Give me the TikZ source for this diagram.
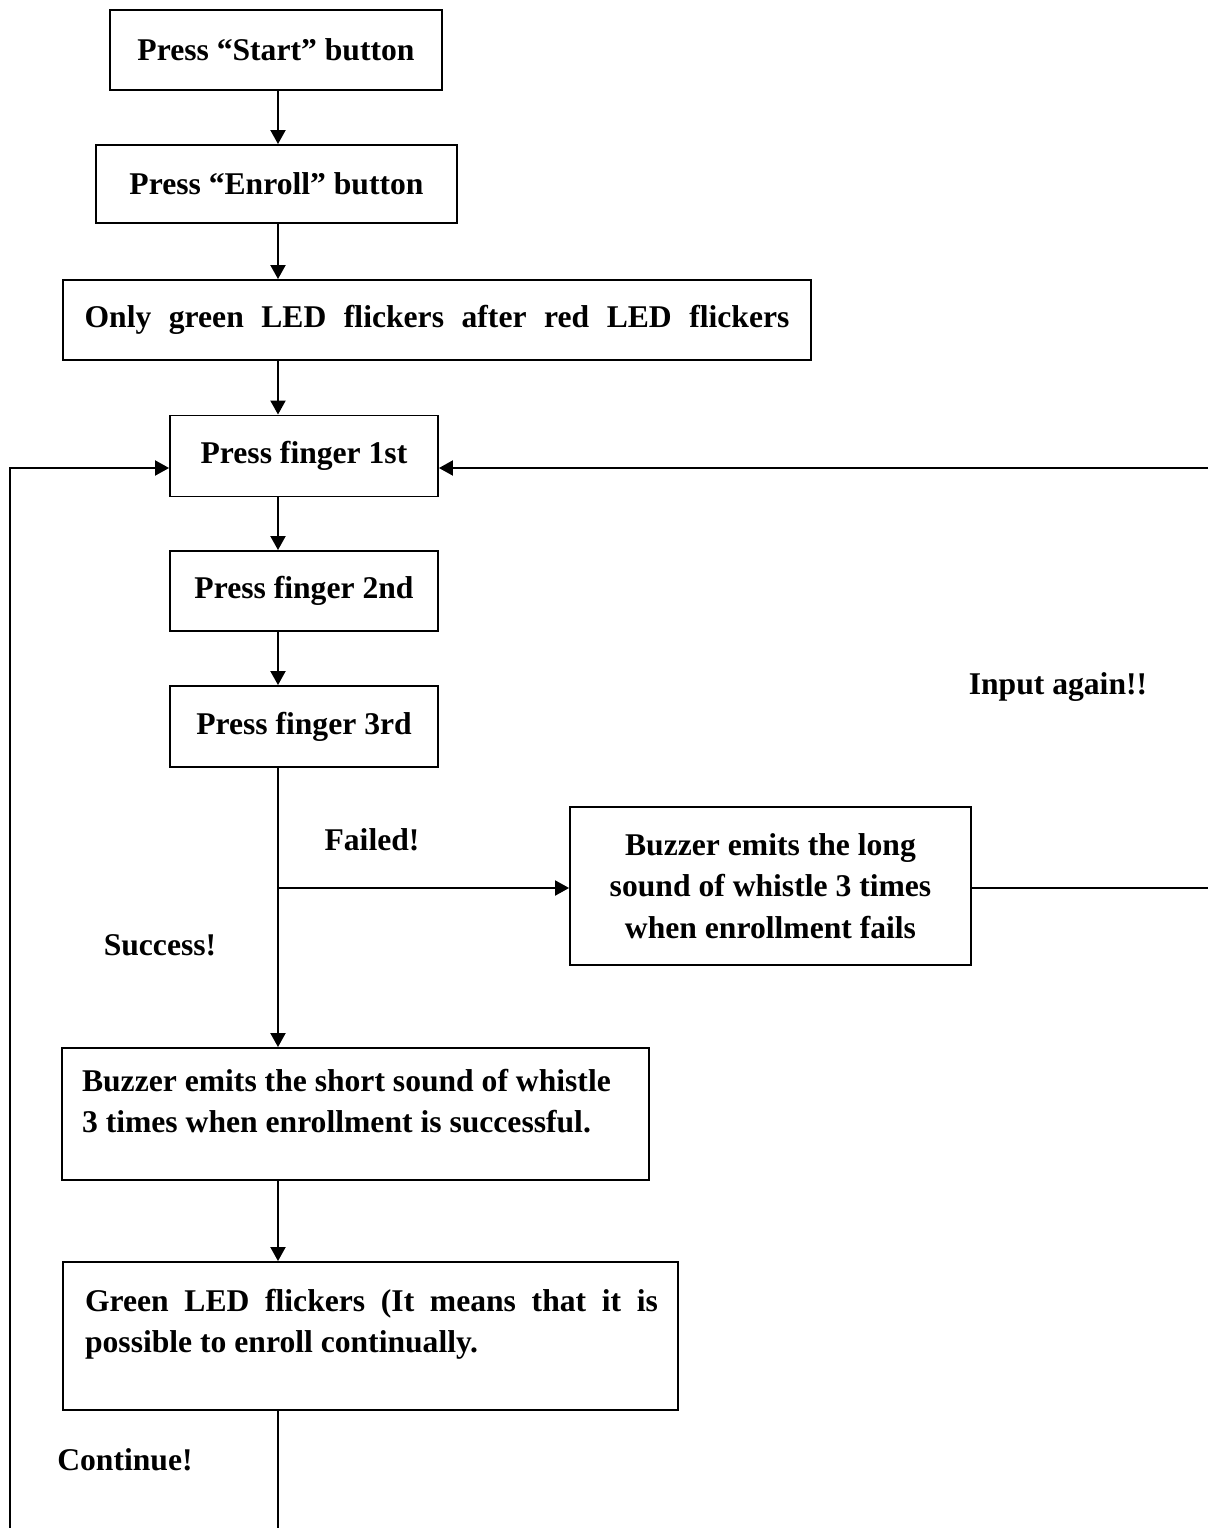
\documentclass[tikz,border=0pt]{standalone}
\usepackage{fontspec}
\setmainfont{Liberation Serif}
\usetikzlibrary{arrows.meta}

\tikzset{
    stepbox/.style={draw, line width=1.1pt, inner sep=0pt, align=center,
        font=\bfseries\fontsize{18}{23.5}\selectfont},
    caption/.style={inner sep=0pt, font=\bfseries\fontsize{18}{23.5}\selectfont},
    flow/.style={line width=1.1pt, -{Triangle[length=0.28cm, width=0.3cm]}},
    wire/.style={line width=1.1pt}
}

\begin{document}
\begin{tikzpicture}[x=0.02cm, y=-0.02cm]
    \useasboundingbox (0,0) rectangle (1208,1528);

    % Main column of boxes
    \node[stepbox, minimum width=6.64cm, minimum height=1.6cm] (start) at (276,50) {Press “Start” button};
    \node[stepbox, minimum width=7.22cm, minimum height=1.56cm] (enroll) at (276.5,184) {Press “Enroll” button};
    \node[stepbox, minimum width=14.96cm, minimum height=1.6cm] (led) at (437,320)
        {\makebox[14.1cm][s]{Only green LED flickers after red LED flickers}};
    \node[stepbox, minimum width=5.36cm, minimum height=1.62cm] (finger1) at (304,456) {Press finger 1st};
    \node[stepbox, minimum width=5.36cm, minimum height=1.6cm] (finger2) at (304,591) {Press finger 2nd};
    \node[stepbox, minimum width=5.36cm, minimum height=1.62cm] (finger3) at (304,726.5) {Press finger 3rd};

    % Failed branch
    \node[stepbox, minimum width=8.02cm, minimum height=3.16cm] (fail) at (770.5,886)
        {Buzzer emits the long\\sound of whistle 3 times\\when enrollment fails};

    % Success branch
    \node[stepbox] (success) at (355.5,1114)
        {\parbox[c][2.64cm][t]{11.74cm}{\raggedright\leftskip=0.4cm
        \rule{0pt}{0.86cm}Buzzer emits the short sound of whistle\\
        3 times when enrollment is successful.}};
    \node[stepbox] (green) at (370.5,1336)
        {\parbox[c][2.96cm][t]{12.3cm}{\raggedright\leftskip=0.44cm
        \rule{0pt}{0.98cm}\makebox[11.46cm][s]{Green LED flickers (It means that it is}\\
        possible to enroll continually.}};

    % Labels
    \node[caption] (failed) at (372,840) {Failed!};
    \node[caption] (succlabel) at (160,945) {Success!};
    \node[caption] (cont) at (125,1460) {Continue!};
    \node[caption] (again) at (1058,687) {Input again!!};

    % Helper points
    \coordinate (spine) at (278,0);
    \coordinate (branch) at (278,888);
    \coordinate (rtop) at (1208,468);
    \coordinate (rbot) at (1208,888);
    \coordinate (ltop) at (10,468);
    \coordinate (lbot) at (10,1528);
    \coordinate (gbot) at (278,1528);

    % Arrows down the column
    \draw[flow] (start.south -| spine) -- (enroll.north -| spine);
    \draw[flow] (enroll.south -| spine) -- (led.north -| spine);
    \draw[flow] (led.south -| spine) -- (finger1.north -| spine);
    \draw[flow] (finger1.south -| spine) -- (finger2.north -| spine);
    \draw[flow] (finger2.south -| spine) -- (finger3.north -| spine);
    \draw[flow] (finger3.south -| spine) -- (success.north -| spine);
    \draw[flow] (branch) -- (branch -| fail.west);
    \draw[flow] (success.south -| spine) -- (green.north -| spine);
    \draw[wire] (green.south -| spine) -- (gbot);

    % Loops back to finger 1st
    \draw[wire] (rbot -| fail.east) -- (rbot);
    \draw[flow] (rtop) -- (rtop -| finger1.east);
    \draw[flow] (lbot) -- (ltop) -- (ltop -| finger1.west);
\end{tikzpicture}
\end{document}
